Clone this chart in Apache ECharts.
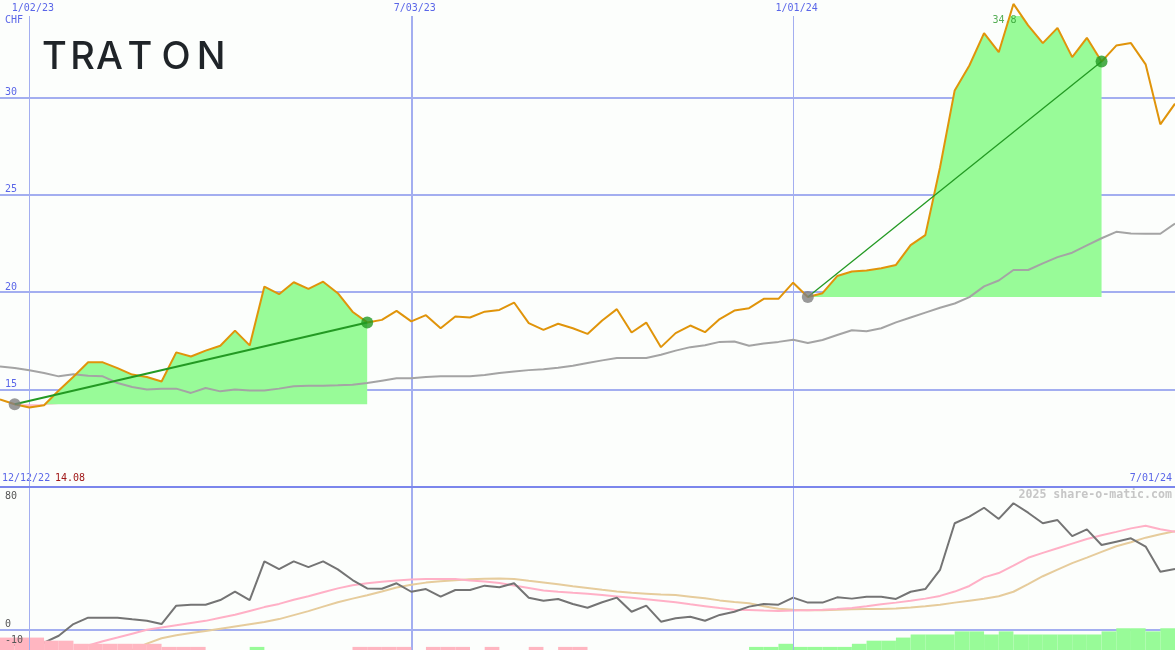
<!DOCTYPE html>
<html><head><meta charset="utf-8">
<script src="https://cdn.jsdelivr.net/npm/echarts@6/dist/echarts.min.js"></script>
<style>html,body{margin:0;padding:0;background:#fcfefc}#chart{width:1175px;height:650px}</style>
</head><body><div id="chart"></div>
<script>
// ---------- data ----------
const dates = ['2022-12-19','2022-12-26','2023-01-02','2023-01-09','2023-01-16','2023-01-23','2023-01-30','2023-02-06','2023-02-13','2023-02-20',
'2023-02-27','2023-03-06','2023-03-13','2023-03-20','2023-03-27','2023-04-03','2023-04-10','2023-04-17','2023-04-24','2023-05-01',
'2023-05-08','2023-05-15','2023-05-22','2023-05-29','2023-06-05','2023-06-12','2023-06-19','2023-06-26','2023-07-03','2023-07-10',
'2023-07-17','2023-07-24','2023-07-31','2023-08-07','2023-08-14','2023-08-21','2023-08-28','2023-09-04','2023-09-11','2023-09-18',
'2023-09-25','2023-10-02','2023-10-09','2023-10-16','2023-10-23','2023-10-30','2023-11-06','2023-11-13','2023-11-20','2023-11-27',
'2023-12-04','2023-12-11','2023-12-18','2023-12-25','2024-01-01','2024-01-08','2024-01-15','2024-01-22','2024-01-29','2024-02-05',
'2024-02-12','2024-02-19','2024-02-26','2024-03-04','2024-03-11','2024-03-18','2024-03-25','2024-04-01','2024-04-08','2024-04-15',
'2024-04-22','2024-04-29','2024-05-06','2024-05-13','2024-05-20','2024-05-27','2024-06-03','2024-06-10','2024-06-17','2024-06-24','2024-07-01'];

const price = [14.5,14.25,14.08,14.2,14.95,15.66,16.4,16.4,16.1,15.77,
15.65,15.42,16.91,16.7,17.0,17.25,18.03,17.27,20.29,19.9,
20.51,20.17,20.54,19.95,19.0,18.45,18.58,19.04,18.5,18.82,
18.15,18.75,18.7,19.0,19.09,19.47,18.41,18.07,18.38,18.15,
17.86,18.55,19.13,17.93,18.44,17.18,17.9,18.29,17.95,18.62,
19.06,19.18,19.66,19.66,20.49,19.75,19.95,20.83,21.06,21.11,
21.23,21.4,22.42,22.93,26.4,30.36,31.64,33.3,32.32,34.8,
33.7,32.79,33.57,32.07,33.06,31.84,32.66,32.79,31.7,28.62,29.68];

const movingAvg = [16.19,16.11,15.99,15.85,15.68,15.79,15.71,15.68,15.34,15.13,
15.0,15.05,15.05,14.83,15.08,14.91,15.0,14.96,14.96,15.05,
15.17,15.2,15.2,15.22,15.25,15.34,15.46,15.58,15.58,15.65,
15.68,15.68,15.68,15.75,15.85,15.93,16.0,16.05,16.12,16.23,
16.37,16.5,16.62,16.62,16.62,16.79,17.0,17.18,17.28,17.45,
17.47,17.25,17.37,17.45,17.56,17.39,17.55,17.8,18.05,18.0,
18.15,18.45,18.7,18.95,19.2,19.42,19.75,20.3,20.6,21.14,
21.14,21.48,21.8,22.03,22.4,22.77,23.1,23.02,23.0,23.0,23.53];

const oscillator = [-8.6,-9.7,-10.75,-8.25,-3.9,3.4,7.4,7.4,7.4,6.4,
5.5,3.4,14.9,15.5,15.5,18.4,23.6,18.4,42.6,37.8,
42.6,39,42.6,37.6,30.9,25.7,25.5,28.9,23.6,25.3,
20.5,24.7,24.7,27.4,26.4,28.9,19.9,18,19.1,15.9,
13.6,17,19.9,11.1,14.9,4.9,7,8,5.5,9.1,
11.1,14.3,16.0,15.5,19.9,16.8,16.8,20.1,19.3,20.5,
20.5,19.1,23.6,25.3,37.2,66.4,70.5,76.1,69.1,78.9,
73,66.4,68.4,58.4,62.6,52.8,54.9,57,51.8,36.1,37.8];

const oscFast = ['-','-','-','-','-','-',-10,-7.3,-5,-2.6,
-0.2,1.2,2.6,4.0,5.4,7.3,9.2,11.6,14.0,16.0,
18.6,20.8,23.3,25.7,27.7,28.9,29.8,30.6,31.2,31.6,
31.6,31.6,30.6,30.0,29.0,27.5,26,24.4,23.6,22.9,
22.3,21.6,20.7,19.8,18.9,18.0,17.1,15.8,14.6,13.4,
12.4,12.2,11.8,11.6,11.8,12.1,12.3,12.8,13.4,14.5,
15.8,16.8,17.9,19.3,21.0,23.7,27.2,32.6,35.3,39.9,
44.8,47.9,50.8,53.7,56.6,58.9,61.0,63.2,64.9,62.6,61.1];

const oscSlow = ['-','-','-','-','-','-','-','-','-',-12.7,
-8.8,-5.5,-3.6,-2.2,-1.0,0.5,1.9,3.3,4.7,6.5,
9.0,11.5,14.3,17.0,19.3,21.4,23.8,26.3,28.0,29.3,
30.1,30.8,31.4,31.7,31.8,31.6,30.4,29.4,28.3,27.1,
26.0,24.8,23.8,22.9,22.4,21.9,21.5,20.5,19.5,18.2,
17.2,16.4,14.5,13.0,12.4,12.1,12.0,12.3,12.7,12.8,
12.8,13.2,13.8,14.5,15.5,16.8,18.0,19.2,20.8,23.6,
28.4,33.3,37.4,41.5,44.9,48.5,52.0,54.5,57.4,59.5,61.4];

// weekly histogram (one bar per week interval), signed
const histogram = [-4,-4,-4,-3,-3,-2,-2,-2,-2,-2,
-2,-1,-1,-1,0,0,0,1,0,0,
0,0,0,0,-1,-1,-1,-1,0,-1,
-1,-1,0,-1,0,0,-1,0,-1,-1,
0,0,0,0,0,0,0,0,0,0,
0,1,1,2,1,1,1,1,2,3,
3,4,5,5,5,6,6,5,6,5,
5,5,5,5,5,6,7,7,6,7];

const trendPeriods = [[1,25],[55,75]];          // week indices of start/end of each trend
const dateMarks = ['2023-01-02','2023-07-03','2024-01-01'];
const priceTicks = [15, 20, 25, 30];
const oscTicks = [-10, 0, 80];
const currency = 'CHF';
const startLabel = '12/12/22', startValue = '14.08', endLabel = '7/01/24';
const watermark = '2025 share-o-matic.com';
const logo = 'TRATON';

// ---------- chart ----------
const MONO = '"DejaVu Sans Mono", monospace';
const BLUE = '#5a66e8';
const GRIDC = '#a3aef0';
const fmtDate = s => { const p = s.split('-'); return (+p[1]) + '/' + p[2] + '/' + p[0].slice(2); };
const thinMark = (idx, val) => val === dateMarks[0] || val === dateMarks[2];
const maxIdx = price.indexOf(Math.max.apply(null, price));

const series = [];
trendPeriods.forEach(([a, b], r) => {
  const base = price[a];
  const inR = k => k >= a && k <= b;
  const lo = dates.map((d, k) => inR(k) ? Math.min(price[k], base) : '-');
  const neg = dates.map((d, k) => inR(k) ? +(base - Math.min(price[k], base)).toFixed(4) : '-');
  const pos = dates.map((d, k) => inR(k) ? +(Math.max(price[k], base) - base).toFixed(4) : '-');
  const common = {type: 'line', xAxisIndex: 0, yAxisIndex: 0, stack: 'fill' + r, symbol: 'none', showSymbol: false,
    lineStyle: {width: 0, opacity: 0}, silent: true, z: 1};
  series.push(Object.assign({}, common, {data: lo}));
  series.push(Object.assign({}, common, {data: neg, areaStyle: {color: '#ffb6c1', opacity: 1}}));
  series.push(Object.assign({}, common, {data: pos, areaStyle: {color: '#98fb98', opacity: 1}}));
});

series.push({
  type: 'line', name: 'avg', xAxisIndex: 0, yAxisIndex: 0, data: movingAvg, symbol: 'none', z: 2,
  lineStyle: {color: '#a4a4a4', width: 2},
  markLine: {symbol: 'none', silent: true, label: {show: false}, animation: false, z: 0,
    data: [{xAxis: dateMarks[1], lineStyle: {color: GRIDC, width: 2, type: 'solid'}}]
      .concat(priceTicks.map(v => ({yAxis: v, lineStyle: {color: GRIDC, width: 2, type: 'solid'}})))}
});
// label of the highest price
series.push({
  type: 'scatter', xAxisIndex: 0, yAxisIndex: 0, symbol: 'circle', symbolSize: 2, clip: false, z: 2, silent: true,
  itemStyle: {color: 'rgba(0,0,0,0)'},
  data: [[dates[maxIdx], price[maxIdx]]],
  label: {show: true, position: [-20, 12], color: '#2a9a2a', fontFamily: MONO, fontSize: 10,
    formatter: p => Number(p.value[1]).toFixed(1)}
});
series.push({
  type: 'line', name: 'price', xAxisIndex: 0, yAxisIndex: 0, data: price, symbol: 'none', clip: false, z: 3,
  lineStyle: {color: '#e0940a', width: 2}
});
trendPeriods.forEach(([a, b], r) => {
  series.push({
    type: 'line', xAxisIndex: 0, yAxisIndex: 0, connectNulls: true, symbol: 'none', clip: false, z: 4,
    data: dates.map((d, k) => (k === a || k === b) ? price[k] : '-'),
    lineStyle: {color: '#239a23', width: r === 0 ? 2 : 1.3}
  });
  series.push({
    type: 'scatter', xAxisIndex: 0, yAxisIndex: 0, symbolSize: 12, z: 5, clip: false,
    data: [{value: [dates[a], price[a]], itemStyle: {color: '#808080'}},
           {value: [dates[b], price[b]], itemStyle: {color: '#229a22'}}]
  });
});

// bottom panel
series.push({
  type: 'bar', xAxisIndex: 2, yAxisIndex: 2, barWidth: '100%', barGap: '0%', z: 6, silent: true,
  data: histogram.map(v => ({value: Math.abs(v), itemStyle: {color: v < 0 ? '#ffb6c1' : '#98fb98'}}))
});
series.push({
  type: 'line', xAxisIndex: 1, yAxisIndex: 1, data: oscSlow, symbol: 'none', z: 3,
  lineStyle: {color: '#e6cc9c', width: 2}
});
series.push({
  type: 'line', xAxisIndex: 1, yAxisIndex: 1, data: oscFast, symbol: 'none', z: 3,
  lineStyle: {color: '#ffb0c6', width: 2}
});
series.push({
  type: 'line', xAxisIndex: 1, yAxisIndex: 1, data: oscillator, symbol: 'none', z: 4,
  lineStyle: {color: '#747474', width: 2},
  markLine: {symbol: 'none', silent: true, label: {show: false}, animation: false, z: 1,
    data: [{xAxis: dateMarks[1], lineStyle: {color: GRIDC, width: 2, type: 'solid'}},
           {yAxis: 0, lineStyle: {color: GRIDC, width: 2, type: 'solid'}}]}
});

const logoX = [54.5, 82.5, 109.5, 140, 176, 211];
const graphic = logo.split('').map((ch, i) => ({
  type: 'text', x: logoX[i], y: 58, silent: true,
  style: {text: ch, fill: '#1f2428', font: '500 38px Inter', textAlign: 'center', textVerticalAlign: 'middle'}
})).concat([
  {type: 'text', x: 5, y: 15, style: {text: currency, fill: BLUE, font: '10px ' + MONO}},
  {type: 'text', x: 2, y: 473, style: {text: startLabel, fill: BLUE, font: '10px ' + MONO}},
  {type: 'text', x: 55, y: 473, style: {text: startValue, fill: '#a01818', font: '10px ' + MONO}},
  {type: 'text', x: 1172, y: 473, style: {text: endLabel, fill: BLUE, font: '10px ' + MONO, textAlign: 'right'}},
  {type: 'text', x: 1172, y: 489, style: {text: watermark, fill: '#c6c6c6', font: 'bold 11.6px ' + MONO, textAlign: 'right'}}
]);

const option = {
  animation: false,
  backgroundColor: '#fcfefc',
  grid: [
    {left: 0, right: 0, top: 16, height: 471},
    {left: 0, right: 0, top: 487, height: 163}
  ],
  xAxis: [
    {type: 'category', gridIndex: 0, data: dates, boundaryGap: false, position: 'top',
      axisLine: {show: false}, axisTick: {show: false},
      splitLine: {show: true, interval: thinMark, lineStyle: {color: GRIDC, width: 1}},
      axisLabel: {show: true, margin: 3, color: BLUE, fontFamily: MONO, fontSize: 10, padding: [0, 0, 0, 7],
        interval: (idx, val) => dateMarks.includes(val), formatter: v => fmtDate(v)}},
    {type: 'category', gridIndex: 1, data: dates, boundaryGap: false, position: 'top', z: 8,
      axisLine: {show: true, onZero: false, lineStyle: {color: '#7b86ec', width: 2}}, axisTick: {show: false},
      axisLabel: {show: false},
      splitLine: {show: true, interval: thinMark, lineStyle: {color: GRIDC, width: 1}}},
    {type: 'category', gridIndex: 1, data: dates.slice(0, histogram.length), boundaryGap: true, show: false}
  ],
  yAxis: [
    {type: 'value', gridIndex: 0, min: 10, max: 34.18,
      axisLine: {show: false}, axisTick: {show: false}, splitLine: {show: false},
      axisLabel: {inside: true, margin: 5, color: BLUE, fontFamily: MONO, fontSize: 10, verticalAlign: 'bottom',
        customValues: priceTicks}},
    {type: 'value', gridIndex: 1, min: -12.81, max: 89.06, z: 10,
      axisLine: {show: false}, axisTick: {show: false}, splitLine: {show: false},
      axisLabel: {inside: true, margin: 5, color: '#555', fontFamily: MONO, fontSize: 10, verticalAlign: 'bottom',
        customValues: oscTicks}},
    {type: 'value', gridIndex: 1, min: 0, max: 52.5, show: false}
  ],
  graphic: graphic,
  series: series
};
const chart = echarts.init(document.getElementById('chart'));
chart.setOption(option);
</script></body></html>
